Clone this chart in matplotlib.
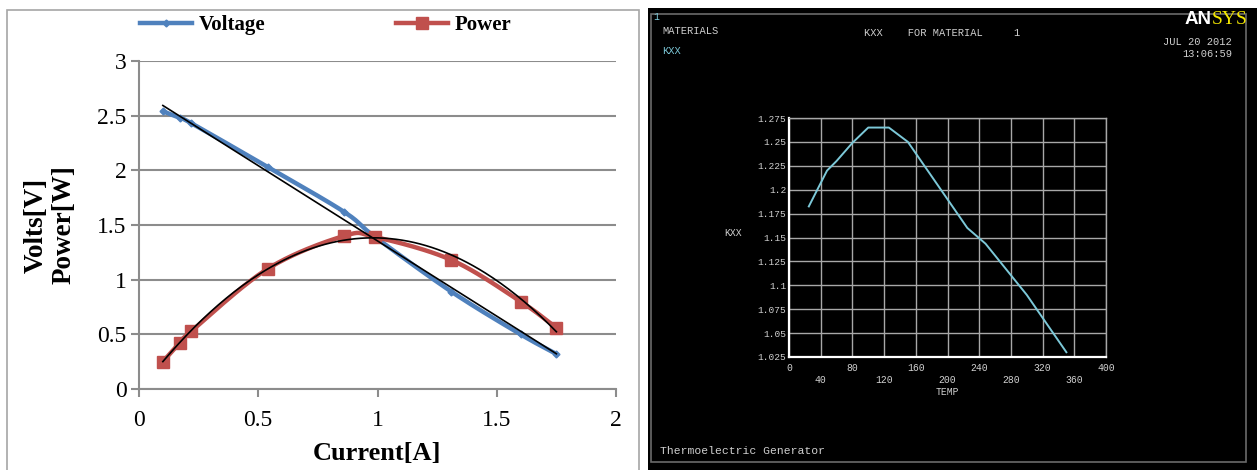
import numpy as np
import matplotlib.pyplot as plt
from matplotlib.patches import Rectangle
from matplotlib.lines import Line2D

# left chart: measured I-V and I-P of the generator
current = [0.10, 0.17, 0.22, 0.54, 0.86, 0.99, 1.31, 1.60, 1.75]
voltage = [2.54, 2.48, 2.43, 2.03, 1.62, 1.39, 0.89, 0.50, 0.32]
power = [0.25, 0.42, 0.53, 1.10, 1.40, 1.39, 1.18, 0.80, 0.56]
x_ticks = [0, 0.5, 1, 1.5, 2]
y_ticks = [0, 0.5, 1, 1.5, 2, 2.5, 3]

# right chart: ANSYS material curve KXX vs TEMP
temp = [25, 48, 60, 80, 100, 126, 150, 225, 248, 300, 350]
kxx = [1.1825, 1.22, 1.23, 1.249, 1.265, 1.265, 1.25, 1.16, 1.1435, 1.09, 1.03]
temp_ticks = [0, 40, 80, 120, 160, 200, 240, 280, 320, 360, 400]
kxx_ticks = [1.025, 1.05, 1.075, 1.1, 1.125, 1.15, 1.175, 1.2, 1.225, 1.25, 1.275]
kxx_labels = ['1.025', '1.05', '1.075', '1.1', '1.125', '1.15', '1.175', '1.2',
              '1.225', '1.25', '1.275']

BLUE = '#4F81BD'
RED = '#C0504D'
GRID = '#8c8c8c'
SERIF = 'Liberation Serif'
MONO = 'Liberation Mono'
W, H = 1257, 470


def smooth(x, y, n=24):
    # catmull-rom curve through the points, like Excel's "smoothed line"
    x = np.asarray(x, float)
    y = np.asarray(y, float)
    px = np.concatenate([[2 * x[0] - x[1]], x, [2 * x[-1] - x[-2]]])
    py = np.concatenate([[2 * y[0] - y[1]], y, [2 * y[-1] - y[-2]]])
    t = np.linspace(0, 1, n)
    xs, ys = [], []
    for i in range(1, len(px) - 2):
        for p, out in ((px, xs), (py, ys)):
            p0, p1, p2, p3 = p[i - 1], p[i], p[i + 1], p[i + 2]
            out.extend(0.5 * (2 * p1 + (-p0 + p2) * t
                              + (2 * p0 - 5 * p1 + 4 * p2 - p3) * t ** 2
                              + (-p0 + 3 * p1 - 3 * p2 + p3) * t ** 3))
    return np.array(xs), np.array(ys)


fig = plt.figure(figsize=(W / 100, H / 100), dpi=100)

# frame around the left chart
fig.patches.append(Rectangle((7 / W, -0.02), 632 / W, 1.02 - 10 / H,
                             transform=fig.transFigure, fill=False,
                             edgecolor='#a6a6a6', linewidth=1.2, zorder=-5))

ax = fig.add_axes([139 / W, 1 - 389 / H, 477 / W, 328 / H])
ax.set_xlim(0, 2)
ax.set_ylim(0, 3)
ax.set_xticks(x_ticks)
ax.set_yticks(y_ticks)
ax.set_xticklabels([f'{v:g}' for v in x_ticks])
ax.set_yticklabels([f'{v:g}' for v in y_ticks])
ax.yaxis.grid(True, color=GRID, linewidth=1.5)
ax.set_axisbelow(True)
for s in ('top', 'right'):
    ax.spines[s].set_visible(False)
for s in ('left', 'bottom'):
    ax.spines[s].set_color(GRID)
    ax.spines[s].set_linewidth(1.5)
ax.tick_params(length=6, width=1.5, color=GRID, labelsize=17)
ax.tick_params(axis='x', pad=9)
ax.tick_params(axis='y', pad=3)
for lab in ax.get_xticklabels() + ax.get_yticklabels():
    lab.set_fontfamily(SERIF)

sx, sy = smooth(current, voltage)
ax.plot(sx, sy, color=BLUE, linewidth=3.2, solid_capstyle='round')
ax.plot(current, voltage, 'D', color=BLUE, markersize=3.5)
sx, sy = smooth(current, power)
ax.plot(sx, sy, color=RED, linewidth=3.2, solid_capstyle='round')
ax.plot(current, power, 's', color=RED, markersize=8)

# Excel trend lines: linear for voltage, 2nd order for power
xt = np.linspace(current[0], current[-1], 200)
ax.plot(xt, np.polyval(np.polyfit(current, voltage, 1), xt), color='black', linewidth=1.2)
ax.plot(xt, np.polyval(np.polyfit(current, power, 2), xt), color='black', linewidth=1.2)

ax.set_xlabel('Current[A]', fontfamily=SERIF, fontweight='bold', fontsize=19)
ax.xaxis.set_label_coords(0.5, -0.163)
ax.set_ylabel('Volts[V]\nPower[W]', fontfamily=SERIF, fontweight='bold',
              fontsize=19.5, linespacing=1.15)
ax.yaxis.set_label_coords(-0.13, 0.5)

handles = [Line2D([], [], color=BLUE, linewidth=3.2, marker='D', markersize=3.5),
           Line2D([], [], color=RED, linewidth=3.2, marker='s', markersize=8)]
ax.legend(handles, ['Voltage', 'Power'], loc='center left',
          bbox_to_anchor=(140 / W, 1 - 25 / H), bbox_transform=fig.transFigure,
          ncol=2, frameon=False, borderpad=0, borderaxespad=0,
          handlelength=2.5, handletextpad=0.3, columnspacing=6.3,
          prop={'family': SERIF, 'weight': 'bold', 'size': 15})

# right panel: black ANSYS screen
fig.patches.append(Rectangle((648 / W, 0), 1 - 648 / W, 1 - 8 / H,
                             transform=fig.transFigure, facecolor='black',
                             edgecolor='none', zorder=-10))
fig.patches.append(Rectangle((651 / W, 8 / H), 595 / W, 1 - 22 / H,
                             transform=fig.transFigure, fill=False,
                             edgecolor='#6a6a6a', linewidth=1.2, zorder=-5))

TXT = '#d0d0d0'
CYAN = '#7cc8d8'
bx = fig.add_axes([789 / W, 1 - 357 / H, 317 / W, 239 / H])
bx.set_facecolor('black')
bx.set_xlim(0, 400)
bx.set_ylim(1.025, 1.275)
bx.set_xticks(temp_ticks)
bx.set_yticks(kxx_ticks)
bx.grid(True, color='#a8a8a8', linewidth=1.0)
bx.set_axisbelow(True)
for s in ('top', 'right'):
    bx.spines[s].set_color('#a8a8a8')
    bx.spines[s].set_linewidth(1.0)
for s in ('left', 'bottom'):
    bx.spines[s].set_color('white')
    bx.spines[s].set_linewidth(1.6)
bx.tick_params(length=0, labelbottom=False)
bx.set_yticklabels(kxx_labels, fontfamily=MONO, fontsize=6.8, color=TXT)
bx.tick_params(axis='y', pad=2)
for i, t in enumerate(temp_ticks):
    bx.text(t, -0.046 if i % 2 == 0 else -0.096, str(t), transform=bx.get_xaxis_transform(),
            ha='center', va='center', fontfamily=MONO, fontsize=7, color=TXT)
bx.text(0.5, -0.146, 'TEMP', transform=bx.transAxes, ha='center', va='center',
        fontfamily=MONO, fontsize=7, color=TXT)
bx.text(-0.175, 0.52, 'KXX', transform=bx.transAxes, ha='center', va='center',
        fontfamily=MONO, fontsize=7, color=TXT)
bx.plot(temp, kxx, color=CYAN, linewidth=1.4)

fig.text(653 / W, 1 - 17 / H, '1', fontfamily=MONO, fontsize=7, color=CYAN, va='center')
fig.text(662 / W, 1 - 31 / H, 'MATERIALS', fontfamily=MONO, fontsize=7.5, color=TXT, va='center')
fig.text(662 / W, 1 - 51 / H, 'KXX', fontfamily=MONO, fontsize=7.5, color=CYAN, va='center')
fig.text(864 / W, 1 - 33 / H, 'KXX    FOR MATERIAL     1', fontfamily=MONO, fontsize=7.5,
         color=TXT, va='center')
fig.text(1232 / W, 1 - 42 / H, 'JUL 20 2012', fontfamily=MONO, fontsize=7.5, color=TXT,
         va='center', ha='right')
fig.text(1232 / W, 1 - 54 / H, '13:06:59', fontfamily=MONO, fontsize=7.5, color=TXT,
         va='center', ha='right')
fig.text(1185 / W, 1 - 20 / H, 'AN', fontfamily='Liberation Sans', fontweight='bold',
         fontsize=13.5, color='white', va='center')
fig.text(1212 / W, 1 - 20 / H, 'SYS', fontfamily=SERIF, fontsize=14, color='#f2e600',
         va='center')
fig.text(660 / W, 1 - 451 / H, 'Thermoelectric Generator', fontfamily=MONO, fontsize=8.2,
         color=TXT, va='center')

fig.savefig('out.png', dpi=100)
